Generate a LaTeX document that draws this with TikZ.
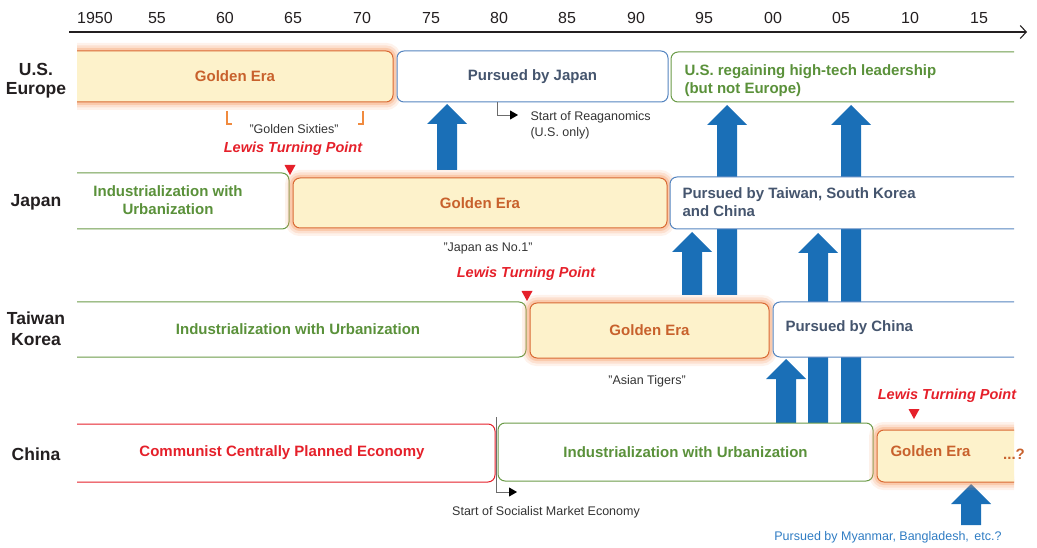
\documentclass[tikz,border=0pt]{standalone}
\usepackage{fontspec}
\setmainfont{Liberation Sans}
\usetikzlibrary{arrows.meta,backgrounds,calc}
\definecolor{goldfill}{HTML}{FDF2CB}
\definecolor{goldline}{HTML}{D96A33}
\definecolor{goldtext}{HTML}{C8612C}
\definecolor{glowc}{HTML}{F59A62}
\definecolor{blueline}{HTML}{5585C0}
\definecolor{slate}{HTML}{45556E}
\definecolor{greenline}{HTML}{6B9B48}
\definecolor{greentext}{HTML}{5A913A}
\definecolor{redc}{HTML}{E5202A}
\definecolor{arrowblue}{HTML}{1A6FB7}
\definecolor{lightblue}{HTML}{2F7CC3}
\definecolor{bracketc}{HTML}{F08A3E}
\definecolor{darktxt}{HTML}{231F20}
\definecolor{graytxt}{HTML}{333333}
\newcommand\blockarrow[2]{\fill[arrowblue] let \p1=(#1),\p2=(#2) in
  (\x1-10pt,\y1) -- (\x1-10pt,\y2-20pt) -- (\x1-20pt,\y2-20pt) -- (\x1,\y2)
  -- (\x1+20pt,\y2-20pt) -- (\x1+10pt,\y2-20pt) -- (\x1+10pt,\y1) -- cycle;}
\begin{document}
\begin{tikzpicture}[x=1pt,y=-1pt,
  region/.style={inner sep=0pt, outer sep=0pt, anchor=north west, align=center},
  boxtxt/.style={font=\fontsize{15}{18}\selectfont\bfseries, align=center},
  glowing/.style={preaction={draw=glowc, line width=16pt, opacity=0.13},
                  preaction={draw=glowc, line width=11pt, opacity=0.2},
                  preaction={draw=glowc, line width=6pt, opacity=0.32}},
  goldbox/.style={glowing, draw=goldline, fill=goldfill, line width=1pt, rounded corners=7pt},
  bluebox/.style={draw=blueline, fill=white, line width=1pt, rounded corners=7pt},
  greenbox/.style={draw=greenline, fill=white, line width=1pt, rounded corners=7pt},
  redbox/.style={draw=redc, fill=white, line width=1pt, rounded corners=7pt},
  rowlbl/.style={font=\fontsize{17.5}{20}\selectfont\bfseries, text=darktxt, align=center},
  tick/.style={font=\fontsize{16}{18}\selectfont, text=darktxt},
  note/.style={font=\fontsize{12.5}{16}\selectfont, text=graytxt},
  lewis/.style={font=\fontsize{14.5}{17}\selectfont\bfseries\itshape, text=redc},
  conn/.style={draw=gray!85!black, line width=0.8pt, -{Triangle[length=8pt,width=9pt,color=black]}},
  bracket/.style={draw=bracketc, line width=1.1pt},
]
\useasboundingbox (0,0) rectangle (1037,548);

% axis
\coordinate (axS) at (69,32);
\coordinate (axE) at (1027,32);
\draw[draw=darktxt, line width=1.1pt, -{Straight Barb[length=6pt,width=13pt]}] (axS) -- (axE);
\foreach \lab/\xx in {1950/95,55/157,60/225,65/293,70/362,75/431,80/499,85/567,90/636,95/704,00/773,05/841,10/910,15/979}
  \node[tick] (t\lab) at (\xx,18) {\lab};

% row labels
\node[rowlbl] (lUS) at (36,81) {U.S.\\[-1pt]Europe};
\node[rowlbl] (lJP) at (36,202) {Japan};
\node[rowlbl] (lTK) at (36,329) {Taiwan\\[1pt]Korea};
\node[rowlbl] (lCN) at (36,454) {China};

% row 1
\node[region, boxtxt, text=goldtext, minimum width=316, minimum height=51] (usGold) at (77,51) {Golden Era};
\node[region, boxtxt, text=slate, minimum width=271, minimum height=51] (usJap) at (397,51) {Pursued by Japan};
\node[region, minimum width=343, minimum height=50] (usReg) at (671,52) {};
\node[boxtxt, text=greentext, anchor=west, align=left] (usRegT) at (681,81) {U.S. regaining high-tech leadership\\(but not Europe)};

% row 2
\node[region, minimum width=212, minimum height=56] (jInd) at (77,173) {};
\node[boxtxt, text=greentext] (jIndT) at (168,200) {Industrialization with\\Urbanization};
\node[region, boxtxt, text=goldtext, minimum width=374, minimum height=50] (jGold) at (293,178) {Golden Era};
\node[region, minimum width=344, minimum height=52] (jPur) at (670,177) {};
\node[boxtxt, text=slate, anchor=west, align=left] (jPurT) at (679,202) {Pursued by Taiwan, South Korea\\and China};

% row 3
\node[region, minimum width=449, minimum height=55] (tInd) at (77,302) {};
\node[boxtxt, text=greentext] (tIndT) at (298,329) {Industrialization with Urbanization};
\node[region, boxtxt, text=goldtext, minimum width=239, minimum height=55] (tGold) at (530,303) {Golden Era};
\node[region, minimum width=241, minimum height=55] (tPur) at (773,302) {};
\node[boxtxt, text=slate, anchor=west] (tPurT) at (782,328) {Pursued by China};

% row 4
\node[region, minimum width=418, minimum height=58] (cCom) at (77,424) {};
\node[boxtxt, text=redc] (cComT) at (282,453) {Communist Centrally Planned Economy};
\node[region, boxtxt, text=greentext, minimum width=375, minimum height=58] (cInd) at (498,423) {Industrialization with Urbanization};
\node[region, minimum width=137, minimum height=52] (cGold) at (877,430) {};
\node[boxtxt, text=goldtext, anchor=west] (cGoldT) at (887,451) {Golden Era};
\node[boxtxt, text=goldtext] (cQ) at (1014,454) {...?};

% notes
\node[note] (gs) at (294,129) {"Golden Sixties"};
\node[note] (ja) at (488,248) {"Japan as No.1"};
\node[note] (as) at (647,381) {"Asian Tigers"};
\node[note, anchor=west, align=left] (rgT) at (527,125) {Start of Reaganomics\\(U.S. only)};
\node[note] (smT) at (546,512) {Start of Socialist Market Economy};
\node[font=\fontsize{12.5}{15}\selectfont, text=lightblue] (my) at (888,537) {Pursued by Myanmar, Bangladesh,\, etc.?};

% Lewis turning points
\node[lewis] (lw1) at (293,149) {Lewis Turning Point};
\node[lewis] (lw2) at (526,274) {Lewis Turning Point};
\node[lewis] (lw3) at (947,396) {Lewis Turning Point};
\fill[redc] (284.5,165) -- (295.5,165) -- (290,175) -- cycle;
\fill[redc] (521.5,291) -- (532.5,291) -- (527,301) -- cycle;
\fill[redc] (908.5,409) -- (919.5,409) -- (914,419) -- cycle;

% golden sixties bracket
\draw[bracket] (227,111) -- (227,124) -- (232,124);
\draw[bracket] (363,111) -- (363,124) -- (358,124);

% small connectors
\coordinate (rgS) at (497,102);
\coordinate (rgE) at (518,115);
\draw[conn] (rgS) |- (rgE);
\coordinate (smS) at (496,417);
\coordinate (smE) at (517,492);
\draw[conn] (smS) |- (smE);

% arrow columns
\coordinate (c1) at (447,0);
\coordinate (c2) at (727,0);
\coordinate (c3) at (851,0);
\coordinate (c4) at (692,0);
\coordinate (c5) at (818,0);
\coordinate (c6) at (786,0);
\coordinate (c7) at (971,0);
\coordinate (c7b) at (971,525);

\begin{pgfonlayer}{background}
  \blockarrow{$(jGold.north -| c1)+(0,-8)$}{$(usJap.south -| c1)+(0,2)$}
  \blockarrow{$(tGold.north -| c2)+(0,-8)$}{$(usReg.south -| c2)+(0,3)$}
  \blockarrow{cInd.north -| c3}{$(usReg.south -| c3)+(0,3)$}
  \blockarrow{$(tGold.north -| c4)+(0,-8)$}{$(jPur.south -| c4)+(0,3)$}
  \blockarrow{cInd.north -| c5}{$(jPur.south -| c5)+(0,4)$}
  \blockarrow{cInd.north -| c6}{$(tPur.south -| c6)+(0,2)$}
  \blockarrow{c7b}{$(cGold.south -| c7)+(0,2)$}
  \begin{scope}
    \clip (77,0) rectangle (1014,548);
    \draw[goldbox] ([xshift=-20pt]usGold.north west) rectangle (usGold.south east);
    \draw[bluebox] (usJap.north west) rectangle (usJap.south east);
    \draw[greenbox] (usReg.north west) rectangle ([xshift=20pt]usReg.south east);
    \draw[greenbox] ([xshift=-20pt]jInd.north west) rectangle (jInd.south east);
    \draw[goldbox] (jGold.north west) rectangle (jGold.south east);
    \draw[bluebox] (jPur.north west) rectangle ([xshift=20pt]jPur.south east);
    \draw[greenbox] ([xshift=-20pt]tInd.north west) rectangle (tInd.south east);
    \draw[goldbox] (tGold.north west) rectangle (tGold.south east);
    \draw[bluebox] (tPur.north west) rectangle ([xshift=20pt]tPur.south east);
    \draw[redbox] ([xshift=-20pt]cCom.north west) rectangle (cCom.south east);
    \draw[greenbox] (cInd.north west) rectangle (cInd.south east);
    \draw[goldbox] (cGold.north west) rectangle ([xshift=20pt]cGold.south east);
  \end{scope}
\end{pgfonlayer}
\end{tikzpicture}
\end{document}
